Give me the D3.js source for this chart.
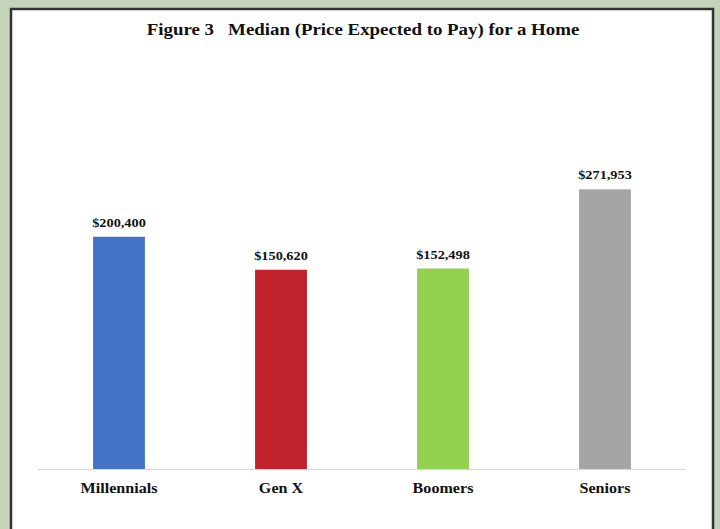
<!DOCTYPE html>
<html><head><meta charset="utf-8">
<script src="https://cdn.jsdelivr.net/npm/d3@7"></script>
<style>body{margin:0;background:#c5d3b8;} svg{display:block;}</style>
</head><body>
<svg id="c" width="720" height="529"></svg>
<script>
const categories = ["Millennials", "Gen X", "Boomers", "Seniors"];
const values = [200400, 150620, 152498, 271953];
const labels = ["$200,400", "$150,620", "$152,498", "$271,953"];
const colors = ["#4472c4", "#c0212b", "#92d050", "#a5a5a5"];
const title = "Figure 3   Median (Price Expected to Pay) for a Home";

const svg = d3.select("#c");
svg.append("rect").attr("x", 0).attr("y", 0).attr("width", 720).attr("height", 529).attr("fill", "#c5d3b8");
svg.append("rect").attr("x", 11).attr("y", 9).attr("width", 702).attr("height", 540)
  .attr("fill", "#ffffff").attr("stroke", "#333").attr("stroke-width", 2.5);

const x = d3.scaleBand().domain(categories).range([38, 686]).paddingInner(0.68).paddingOuter(0.34);
const y = d3.scaleLinear().domain([-150000, 280000]).range([469, 184]);

svg.append("text").attr("transform", "translate(363,35) scale(1.18,1)").attr("text-anchor", "middle")
  .attr("font-family", "Liberation Serif").attr("font-weight", "bold").attr("font-size", 16)
  .attr("fill", "#111").attr("xml:space", "preserve").style("white-space", "pre").text(title);

const g = svg.append("g");
g.selectAll("rect.bar").data(categories).join("rect").attr("class", "bar")
  .attr("x", d => x(d)).attr("width", x.bandwidth())
  .attr("y", (d, i) => y(values[i])).attr("height", (d, i) => y.range()[0] - y(values[i]))
  .attr("fill", (d, i) => colors[i]);

g.selectAll("text.val").data(categories).join("text").attr("class", "val")
  .attr("transform", (d, i) => `translate(${x(d) + x.bandwidth() / 2},${y(values[i]) - 10}) scale(1.1,1)`)
  .attr("text-anchor", "middle").attr("font-family", "Liberation Serif").attr("font-weight", "bold")
  .attr("font-size", 13).attr("fill", "#111").text((d, i) => labels[i]);

svg.append("line").attr("x1", 38).attr("x2", 686).attr("y1", 469.5).attr("y2", 469.5)
  .attr("stroke", "#d9d9d9").attr("stroke-width", 1.2);

const ax = d3.axisBottom(x).tickSize(0).tickPadding(14);
const axg = svg.append("g").attr("transform", "translate(0,469)").call(ax);
axg.select(".domain").remove();
axg.attr("font-family", "Liberation Serif");
axg.selectAll("text").attr("font-family", "Liberation Serif").attr("font-weight", "bold")
  .attr("font-size", 14).attr("fill", "#111").attr("transform", "scale(1.15,1)");
</script>
</body></html>
